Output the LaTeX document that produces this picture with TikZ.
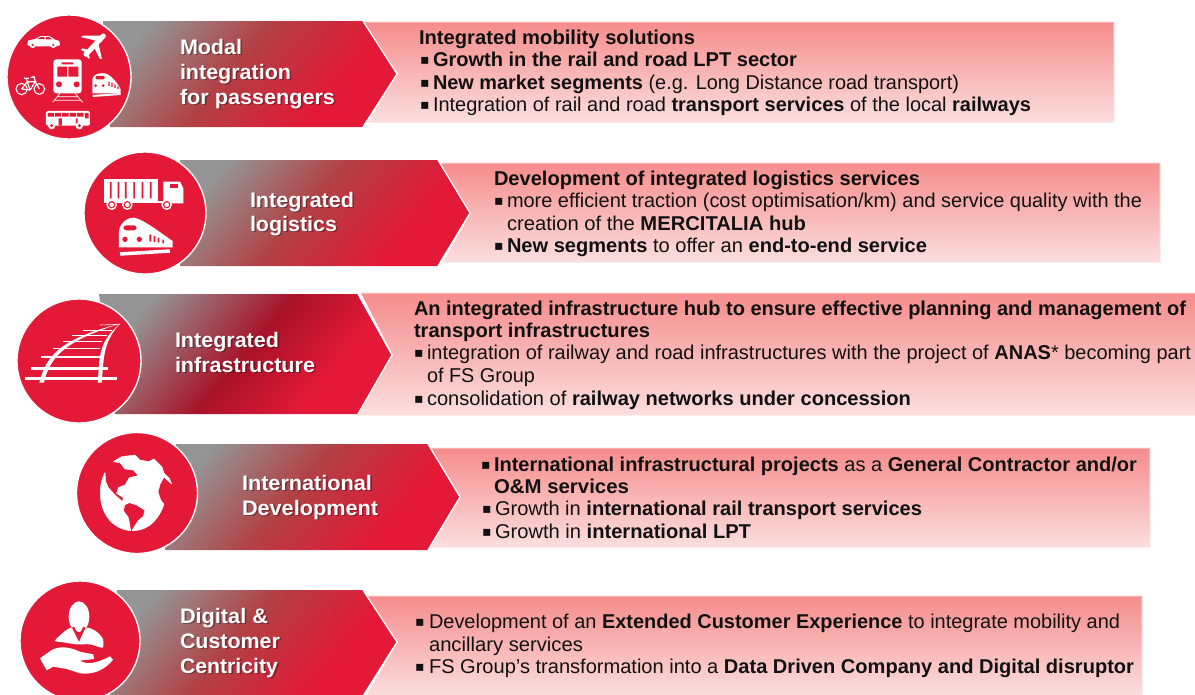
\documentclass[tikz,border=0pt]{standalone}
\usepackage{fontspec}
\usepackage{graphicx}
\setmainfont{Liberation Sans}
\newfontfamily\bulfont{DejaVu Sans}
\definecolor{fsred}{HTML}{E31937}
\definecolor{pantop}{HTML}{F68C8C}
\definecolor{panbot}{HTML}{FBDEDE}
\definecolor{inktext}{HTML}{111111}
\definecolor{gra}{HTML}{949494}
\definecolor{midA}{HTML}{B24044}
\definecolor{midB}{HTML}{A81228}
\pgfdeclarehorizontalshading{chevA}{100bp}{color(0bp)=(gra); color(24bp)=(gra); color(46bp)=(midA); color(68bp)=(fsred); color(100bp)=(fsred)}
\pgfdeclarehorizontalshading{chevB}{100bp}{color(0bp)=(gra); color(25bp)=(gra); color(50bp)=(midB); color(68bp)=(fsred); color(100bp)=(fsred)}
\newsavebox\fitbox
\newcommand{\fitw}[2]{\sbox\fitbox{#2}\pgfmathsetmacro\fitr{#1/\the\wd\fitbox}\scalebox{\fitr}[1]{\usebox\fitbox}}
\tikzset{
  x=1pt,y=-1pt,
  panel/.style={top color=pantop,bottom color=panbot},
  panedge/.style={draw=panbot,line width=1.2pt,opacity=.45},
  chevstyle/.style={shading=#1,shading angle=-40},
  chevline/.style={draw=white,line width=1.3pt},
  disc/.style={fill=fsred,draw=white,line width=1.4pt},
  wht/.style={fill=white,draw=none},
  redf/.style={fill=fsred,draw=none},
  ln/.style={draw=white,line width=#1},
  zs/.style 2 args={shift={(#1,#2)},x=.3333pt,y=-.3333pt},
  body/.style={anchor=base west,inner sep=0pt,outer sep=0pt,text=inktext,font=\fontsize{20}{22}\selectfont},
  bul/.style={anchor=base west,inner sep=0pt,outer sep=0pt,text=inktext,font=\bulfont\fontsize{14}{15}\selectfont},
  lab/.style={anchor=base west,inner sep=0pt,outer sep=0pt,text=white,font=\bfseries\fontsize{21}{24}\selectfont},
  labsh/.style={anchor=base west,inner sep=0pt,outer sep=0pt,text=black,opacity=.32,font=\bfseries\fontsize{21}{24}\selectfont},
}
\newcommand{\tl}[5]{\node[body] (#1) at (#2,#3) {\fitw{#4}{#5}};}
\newcommand{\bl}[3]{\node[bul] (#1) at (#2-.8,#3-1.6) {▪};}
\newcommand{\lb}[5]{\node[labsh] (#1s) at (#2+1.6,#3+1.8) {\fitw{#4}{#5}};\node[lab] (#1) at (#2,#3) {\fitw{#4}{#5}};}
\begin{document}
\begin{tikzpicture}
\useasboundingbox (0,0) rectangle (1195,694);
\clip (0,0) rectangle (1195,694);
% panels
\shade[panel] (360,22) -- (1114,22) -- (1114,122) -- (368,122) -- (398,73) -- cycle;
\draw[panedge] (360,22) -- (1114,22) -- (1114,122) -- (368,122);
\shade[panel] (438,163) -- (1160,163) -- (1160,262) -- (443,262) -- (471,213) -- cycle;
\draw[panedge] (438,163) -- (1160,163) -- (1160,262) -- (443,262);
\shade[panel] (361,293) -- (1196,293) -- (1196,415) -- (358,415) -- (393,355) -- cycle;
\draw[panedge] (361,293) -- (1196,293) -- (1196,415) -- (358,415);
\shade[panel] (431,448) -- (1150,448) -- (1150,547) -- (431,547) -- (461,497) -- cycle;
\draw[panedge] (431,448) -- (1150,448) -- (1150,547) -- (431,547);
\shade[panel] (366,596) -- (1142,596) -- (1142,696) -- (366,696) -- (398,642) -- cycle;
\draw[panedge] (366,596) -- (1142,596) -- (1142,696);
% chevrons
\shade[chevstyle=chevA] (103,21) -- (363,21) -- (397,74) -- (363,127) -- (110,127) -- cycle;
\draw[chevline] (363,21) -- (397,74) -- (363,127);
\shade[chevstyle=chevA] (180,160) -- (438,160) -- (470,213) -- (438,266) -- (180,266) -- cycle;
\draw[chevline] (438,160) -- (470,213) -- (438,266);
\shade[chevstyle=chevB] (99,294) -- (358,294) -- (392,355) -- (358,414) -- (115,414) -- cycle;
\draw[chevline] (358,294) -- (392,355) -- (358,414);
\shade[chevstyle=chevA] (176,444) -- (428,444) -- (460,497) -- (428,550) -- (165,550) -- cycle;
\draw[chevline] (428,444) -- (460,497) -- (428,550);
\shade[chevstyle=chevA] (117,590) -- (363,590) -- (397,642) -- (363,696) -- (110,696) -- cycle;
\draw[chevline] (363,590) -- (397,642) -- (363,696);
% discs
\path[disc] (69,77) circle (62);
\path[disc] (145,213) circle (61);
\path[disc] (79,361) circle (62);
\path[disc] (137,493) circle (60.5);
\path[disc] (80,641) circle (60);
% passenger icons
\begin{scope}[zs={10}{25}]
  % car
  \path[wht] (52,60) -- (54,47) -- (75,42) -- (92,33) -- (118,33) -- (135,44) -- (148,48) -- (150,60) -- (140,64) -- (60,64) -- cycle;
  \path[wht] (68,60) circle (9) (130,60) circle (9);
  \path[redf] (68,60) circle (3.5) (130,60) circle (3.5);
  \path[redf] (82,42) -- (93,36) -- (104,36) -- (104,42) -- cycle (108,36) -- (117,36) -- (127,43) -- (108,43) -- cycle;
  % plane
  \draw[ln=5pt,line cap=round] (280,33) -- (228,88);
  \path[wht] (262,48) -- (212,36) -- (220,32) -- (272,32) -- cycle;
  \path[wht] (264,50) -- (276,102) -- (270,102) -- (250,62) -- cycle;
  \path[wht] (232,84) -- (213,75) -- (218,70) -- (238,76) -- cycle;
  \path[wht] (234,84) -- (240,100) -- (234,100) -- (226,86) -- cycle;
  % train front
  \path[wht,rounded corners=3pt] (130,103) rectangle (215,205);
  \path[redf] (142,125) rectangle (171,155) (175,125) rectangle (205,155) (155,112) rectangle (190,118);
  \path[redf] (147,178) circle (9) (200,178) circle (9);
  \draw[ln=.7pt] (150,205) -- (128,232) (195,205) -- (218,232) (143,215) -- (203,215) (133,226) -- (212,226);
  % bicycle
  \draw[ln=1.1pt] (35,192) circle (17) (88,192) circle (16);
  \draw[ln=1.2pt] (35,192) -- (52,170) -- (76,170) -- (60,195) -- (35,192) (52,170) -- (60,195) (76,170) -- (88,192) (76,170) -- (72,155) -- (62,158) (52,170) -- (49,160) (42,160) -- (57,160);
  % side train
  \path[wht] (247,165) .. controls (248,150) and (262,143) .. (285,145) .. controls (305,150) and (325,178) .. (332,193) -- (332,205) -- (247,205) -- cycle;
  \path[redf,rounded corners=1pt] (257,153) rectangle (284,163);
  \path[redf] (257,182) circle (4.5) (280,182) circle (4.5);
  \path[redf] (295,170) rectangle (299,183) (304,173) rectangle (308,186) (313,178) rectangle (317,189) (322,184) rectangle (326,192);
  \draw[ln=2pt] (248,213) -- (332,207);
  % bus
  \path[wht,rounded corners=2pt] (108,258) rectangle (240,302);
  \path[redf] (113,264) rectangle (132,275) (135,264) rectangle (153,275) (156,264) rectangle (176,275) (179,264) rectangle (198,275) (201,264) rectangle (221,275) (225,264) rectangle (236,280);
  \path[redf] (146,280) rectangle (156,302) (198,280) rectangle (203,302);
  \path[wht] (125,302) circle (11) (208,302) circle (11);
  \path[redf] (125,302) circle (5) (208,302) circle (5);
\end{scope}
% logistics icons
\begin{scope}[zs={95}{170}]
  \path[wht] (28,28) rectangle (190,92);
  \path[redf] (45,36) rectangle (50,85) (68,36) rectangle (73,85) (90,36) rectangle (95,85) (115,36) rectangle (120,85) (140,36) rectangle (145,85) (165,36) rectangle (170,85);
  \path[wht] (28,92) rectangle (205,100);
  \path[wht] (205,35) -- (255,35) -- (265,55) -- (265,100) -- (205,100) -- cycle;
  \path[redf] (225,42) rectangle (250,55);
  \path[wht] (50,104) circle (16) (97,104) circle (16) (215,104) circle (16);
  \path[redf] (50,104) circle (11) (97,104) circle (11) (215,104) circle (11);
  \path[wht] (50,104) circle (7) (97,104) circle (7) (215,104) circle (7);
  \path[wht] (72,232) -- (72,185) .. controls (74,160) and (95,142) .. (118,143) .. controls (150,150) and (205,195) .. (233,213) -- (233,232) -- cycle;
  \path[redf,rounded corners=3pt] (85,166) rectangle (125,181);
  \path[redf] (90,208) circle (8) (133,208) circle (8);
  \path[redf] (163,194) rectangle (169,214) (176,198) rectangle (181,216) (188,203) rectangle (193,218) (202,209) rectangle (207,220);
  \draw[ln=3.5pt] (75,252) -- (225,243);
\end{scope}
% rail icon
\begin{scope}[zs={0}{280}]
  \draw[ln=3pt] (75,297) -- (352,297);
  \draw[ln=2.5pt] (92,265) -- (325,265);
  \draw[ln=2pt] (122,232) -- (306,232);
  \draw[ln=1.6pt] (160,205) -- (300,205);
  \draw[ln=1.3pt] (188,185) -- (305,185);
  \draw[ln=1pt] (215,167) -- (320,167);
  \draw[ln=.8pt] (250,151) -- (335,151);
  \draw[ln=.6pt] (300,135) -- (360,133);
  \path[wht] (118,308) .. controls (140,220) and (190,175) .. (360,131) .. controls (205,180) and (150,225) .. (132,308) -- cycle;
  \path[wht] (293,308) .. controls (300,240) and (290,190) .. (360,131) .. controls (305,190) and (312,245) .. (305,308) -- cycle;
\end{scope}
% globe icon
\begin{scope}[zs={90}{445}]
  \path[wht,draw=white,line width=.5pt,line join=round] (122,257) -- (118,232) -- (114,216) -- (100,197) -- (104,180) -- (118,173) -- (140,180) -- (165,196) -- (160,214) -- (146,226) -- (136,240) -- (126,257)
    .. controls (160,258) and (200,240) .. (222,178) -- (212,165) -- (204,140) -- (210,118) -- (222,96) -- (245,117) -- (238,100) -- (222,85) -- (216,66) -- (192,42) -- (176,50) -- (150,45) -- (135,30) -- (95,35) -- (70,50) -- (90,53) -- (105,72) -- (130,75) -- (145,92) -- (118,98) -- (105,120) -- (85,128) -- (80,145) -- (100,158) -- (98,170) -- (75,150) -- (55,128) -- (47,110) -- (45,83)
    .. controls (30,110) and (22,160) .. (45,205) .. controls (60,235) and (90,255) .. (122,257) -- cycle;
\end{scope}
% person icon
\begin{scope}[zs={30}{595}]
  \path[wht] (147,65) ellipse (31 and 46);
  \path[wht] plot[smooth cycle,tension=.4] coordinates {(75,137) (105,108) (127,98) (147,125) (170,98) (197,108) (218,130) (218,158) (180,148) (140,148) (100,142)};
  \path[redf] (126,98) -- (147,140) -- (166,98) -- (160,95) -- (147,122) -- (132,95) -- cycle;
  \path[wht] (30,190) -- (65,165) .. controls (85,155) and (110,152) .. (150,170) -- (190,178) -- (192,192) -- (150,197) .. controls (170,210) and (200,205) .. (240,184) -- (249,194) .. controls (225,225) and (190,240) .. (150,235) -- (110,222) -- (70,215) -- (50,226) -- cycle;
\end{scope}
% labels
\lb{a1}{180}{54}{62}{Modal}
\lb{a2}{180}{79}{111}{integration}
\lb{a3}{180}{104}{155}{for passengers}
\lb{b1}{250}{207}{104}{Integrated}
\lb{b2}{250}{231}{87}{logistics}
\lb{c1}{175}{347}{104}{Integrated}
\lb{c2}{175}{372}{140}{infrastructure}
\lb{d1}{242}{490}{130}{International}
\lb{d2}{242}{515}{136}{Development}
\lb{e1}{180}{623}{88}{Digital \&}
\lb{e2}{180}{648}{100}{Customer}
\lb{e3}{180}{673}{98}{Centricity}
% row 1 text
\tl{t11}{419}{44}{276}{\textbf{Integrated mobility solutions}}
\bl{p12}{421}{66}\tl{t12}{433}{66}{364}{\textbf{Growth in the rail and road LPT sector}}
\bl{p13}{421}{89}\tl{t13}{433}{89}{526}{\textbf{New market segments} (e.g. Long Distance road transport)}
\bl{p14}{421}{111}\tl{t14}{433}{111}{598}{Integration of rail and road \textbf{transport services} of the local \textbf{railways}}
% row 2 text
\tl{t21}{494}{185}{426}{\textbf{Development of integrated logistics services}}
\bl{p22}{495}{207}\tl{t22}{507}{207}{635}{more efficient traction (cost optimisation/km) and service quality with the}
\tl{t23}{507}{230}{299}{creation of the \textbf{MERCITALIA hub}}
\bl{p24}{495}{252}\tl{t24}{507}{252}{420}{\textbf{New segments} to offer an \textbf{end-to-end service}}
% row 3 text
\tl{t31}{414}{315}{772}{\textbf{An integrated infrastructure hub to ensure effective planning and management of}}
\tl{t32}{414}{337}{236}{\textbf{transport infrastructures}}
\bl{p33}{415}{359}\tl{t33}{427}{359}{764}{integration of railway and road infrastructures with the project of \textbf{ANAS}* becoming part}
\tl{t34}{427}{382}{108}{of FS Group}
\bl{p35}{415}{405}\tl{t35}{427}{405}{484}{consolidation of \textbf{railway networks under concession}}
% row 4 text
\bl{p41}{482}{471}\tl{t41}{494}{471}{643}{\textbf{International infrastructural projects} as a \textbf{General Contractor and/or}}
\tl{t42}{494}{493}{135}{\textbf{O\&M services}}
\bl{p43}{483}{515}\tl{t43}{495}{515}{427}{Growth in \textbf{international rail transport services}}
\bl{p44}{483}{538}\tl{t44}{495}{538}{256}{Growth in \textbf{international LPT}}
% row 5 text
\bl{p51}{416}{628}\tl{t51}{429}{628}{691}{Development of an \textbf{Extended Customer Experience} to integrate mobility and}
\tl{t52}{429}{651}{154}{ancillary services}
\bl{p53}{416}{673}\tl{t53}{429}{673}{705}{FS Group’s transformation into a \textbf{Data Driven Company and Digital disruptor}}
\end{tikzpicture}
\end{document}
